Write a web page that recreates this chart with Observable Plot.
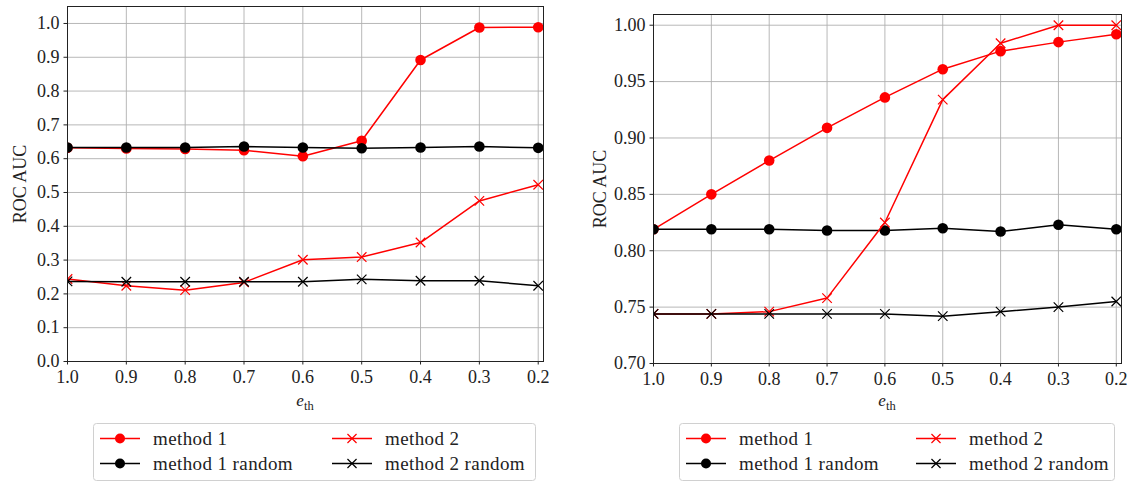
<!DOCTYPE html>
<html>
<head>
<meta charset="utf-8">
<script src="https://cdn.jsdelivr.net/npm/d3@7"></script>
<script src="https://cdn.jsdelivr.net/npm/@observablehq/plot@0.6"></script>
<style>
  body { margin: 0; background: #fff; }
  #wrap { position: relative; width: 1135px; height: 485px; overflow: hidden; font-family: "Liberation Serif", "Times New Roman", serif; }
  #wrap svg { position: absolute; top: 0; }
  #wrap svg text { font-family: "Liberation Serif", "Times New Roman", serif !important; }
</style>
</head>
<body>
<div id="wrap"></div>
<script>
// Error threshold values along the (reversed) x axis
const thresholds = [1.0, 0.9, 0.8, 0.7, 0.6, 0.5, 0.4, 0.3, 0.2];

// Series, in drawing / legend order (legend fills column by column)
const seriesNames = ["method 1", "method 1 random", "method 2", "method 2 random"];
const seriesColors = ["red", "black", "red", "black"];
const seriesSymbols = ["circle", "circle", "times", "times"];

// Left panel ROC AUC values
const leftMethod1       = [0.632, 0.630, 0.629, 0.625, 0.607, 0.653, 0.892, 0.988, 0.989];
const leftMethod1Random = [0.633, 0.633, 0.633, 0.636, 0.633, 0.631, 0.633, 0.636, 0.632];
const leftMethod2       = [0.244, 0.224, 0.211, 0.234, 0.301, 0.309, 0.352, 0.475, 0.523];
const leftMethod2Random = [0.237, 0.236, 0.236, 0.236, 0.236, 0.243, 0.239, 0.239, 0.224];

// Right panel ROC AUC values
const rightMethod1       = [0.819, 0.850, 0.880, 0.909, 0.936, 0.961, 0.977, 0.985, 0.992];
const rightMethod1Random = [0.819, 0.819, 0.819, 0.818, 0.818, 0.820, 0.817, 0.823, 0.819];
const rightMethod2       = [0.744, 0.744, 0.746, 0.758, 0.825, 0.934, 0.984, 1.000, 1.000];
const rightMethod2Random = [0.744, 0.744, 0.744, 0.744, 0.744, 0.742, 0.746, 0.750, 0.755];

// Tick values
const leftYTicks  = [0.0, 0.1, 0.2, 0.3, 0.4, 0.5, 0.6, 0.7, 0.8, 0.9, 1.0];
const rightYTicks = [0.70, 0.75, 0.80, 0.85, 0.90, 0.95, 1.00];

const INK = "#222";
const wrap = document.getElementById("wrap");

function drawPanel({left, width, height, margins, yDomain, yTicks, yFormat, labelOffset, series}) {
  const marks = [
    Plot.gridX({ticks: thresholds, stroke: "#b0b0b0", strokeOpacity: 1, strokeWidth: 0.9}),
    Plot.gridY({ticks: yTicks, stroke: "#b0b0b0", strokeOpacity: 1, strokeWidth: 0.9})
  ];
  series.forEach((vals, s) => {
    const rows = thresholds.map((x, i) => ({x, y: vals[i]}));
    const color = seriesColors[s];
    marks.push(Plot.line(rows, {x: "x", y: "y", stroke: color, strokeWidth: 1.5, clip: true}));
    if (seriesSymbols[s] === "circle") {
      marks.push(Plot.dot(rows, {x: "x", y: "y", r: 5.3, fill: color, stroke: "none", clip: true}));
    } else {
      marks.push(Plot.dot(rows, {x: "x", y: "y", symbol: "times", r: 4.4, stroke: color, strokeWidth: 1.2, clip: true}));
    }
  });
  marks.push(
    Plot.frame({stroke: INK, strokeWidth: 1}),
    Plot.axisX({ticks: thresholds, tickFormat: d3.format(".1f"), tickSize: 3.5, tickPadding: 5, label: null, stroke: INK}),
    Plot.axisY({ticks: yTicks, tickFormat: yFormat, tickSize: 3.5, tickPadding: 4.5, stroke: INK,
      label: "ROC AUC", labelAnchor: "center", labelArrow: "none", labelOffset})
  );
  const chart = Plot.plot({
    width, height, ...margins,
    style: {fontSize: "18px", color: INK, background: "transparent", overflow: "visible"},
    x: {domain: [1.0, 0.191]},
    y: {domain: yDomain},
    marks
  });
  chart.style.left = left + "px";
  // x-axis title e_th with an upright subscript
  const cx = (margins.marginLeft + width - margins.marginRight) / 2;
  const t = d3.select(chart).append("text")
    .attr("x", cx).attr("y", height - 6)
    .attr("text-anchor", "middle")
    .attr("fill", INK)
    .attr("font-size", "17px");
  t.append("tspan").attr("font-style", "italic").text("e");
  t.append("tspan").attr("dy", "0.28em").attr("font-size", "12.5px").text("th");
  wrap.appendChild(chart);
}

drawPanel({
  left: 0, width: 560, height: 412,
  margins: {marginLeft: 67, marginRight: 17, marginTop: 6, marginBottom: 51},
  yDomain: [0, 1.0502], yTicks: leftYTicks, yFormat: d3.format(".1f"), labelOffset: 54,
  series: [leftMethod1, leftMethod1Random, leftMethod2, leftMethod2Random]
});

drawPanel({
  left: 580, width: 555, height: 412,
  margins: {marginLeft: 73, marginRight: 14, marginTop: 14, marginBottom: 49},
  yDomain: [0.70, 1.0095], yTicks: rightYTicks, yFormat: d3.format(".2f"), labelOffset: 60,
  series: [rightMethod1, rightMethod1Random, rightMethod2, rightMethod2Random]
});

// Legends below each panel
const legendSvg = d3.create("svg")
  .attr("width", 1135).attr("height", 485)
  .style("left", "0px")
  .style("pointer-events", "none");

function drawLegend(x0, x1, col2) {
  const g = legendSvg.append("g");
  g.append("rect")
    .attr("x", x0 + 0.5).attr("y", 423.5)
    .attr("width", x1 - x0).attr("height", 57)
    .attr("rx", 3)
    .attr("fill", "white").attr("stroke", "#d0d0d0").attr("stroke-width", 1);
  const rowsY = [438.5, 463.5];
  seriesNames.forEach((name, s) => {
    const col = Math.floor(s / 2), row = s % 2;
    const sx = x0 + 7 + col * col2;
    const y = rowsY[row];
    const color = seriesColors[s];
    g.append("line").attr("x1", sx).attr("x2", sx + 40).attr("y1", y).attr("y2", y)
      .attr("stroke", color).attr("stroke-width", 1.5);
    if (seriesSymbols[s] === "circle") {
      g.append("circle").attr("cx", sx + 20).attr("cy", y).attr("r", 5).attr("fill", color);
    } else {
      g.append("path").attr("transform", `translate(${sx + 20},${y})`)
        .attr("d", d3.symbol(d3.symbolTimes, Math.PI * 4.2 * 4.2)())
        .attr("fill", "none").attr("stroke", color).attr("stroke-width", 1.2);
    }
    g.append("text").attr("x", sx + 53).attr("y", y).attr("dy", "0.35em")
      .attr("font-size", "19px").attr("letter-spacing", "0.4px").attr("fill", INK)
      .text(name);
  });
}
drawLegend(93, 535, 232);
drawLegend(679, 1114, 230);
wrap.appendChild(legendSvg.node());
</script>
</body>
</html>
